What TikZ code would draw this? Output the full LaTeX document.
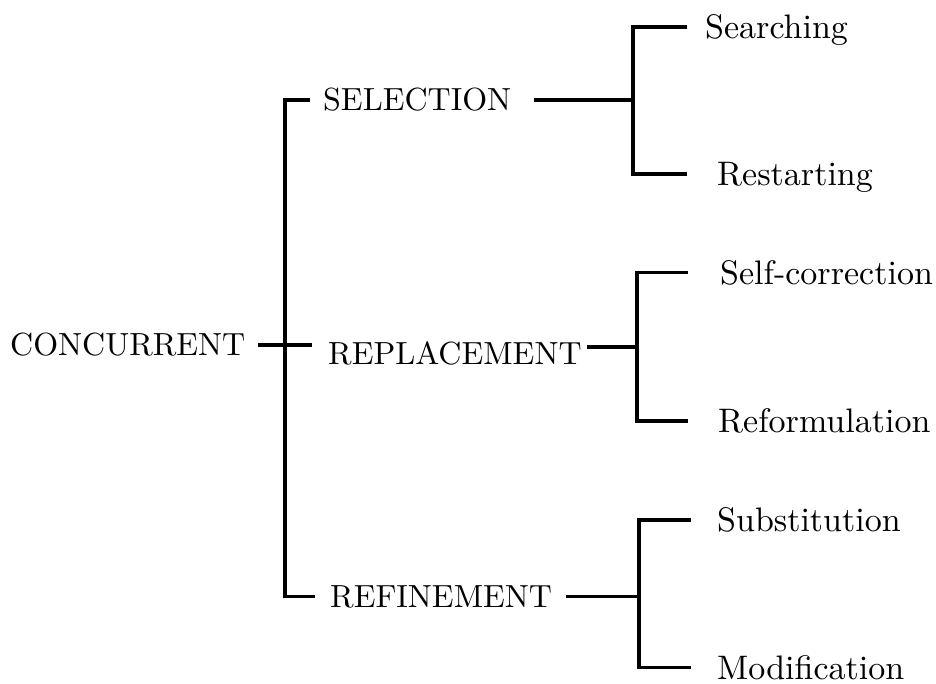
\documentclass[tikz,border=0pt]{standalone}
\usepackage{graphicx}
% labels are set at the 10pt design size and enlarged, which keeps the
% wide, sturdy letterforms of the small optical size
\newcommand\capslabel[1]{\scalebox{3.2}{#1}}
\newcommand\leaflabel[1]{\scalebox{3.4}{#1}}
\begin{document}
\begin{tikzpicture}[x=1pt,y=-1pt,
  lbl/.style={anchor=west, inner sep=0pt, text depth=0pt},
  branch/.style={lbl, text height=21.9pt},
  leaf/.style={lbl, text height=23.2pt},
  wire/.style={line width=3.2pt, line join=miter, line cap=butt}]
\useasboundingbox (0,0) rectangle (936,684);
\fill[white] (0,0) rectangle (936,684);

% root and the three branches
\node[branch] (conc) at (10,345)    {\capslabel{CONCURRENT}};
\node[branch] (sel)  at (323,100)   {\capslabel{SELECTION}};
\node[branch] (rep)  at (328,353.5) {\capslabel{REPLACEMENT}};
\node[branch] (ref)  at (330,596.5) {\capslabel{REFINEMENT}};

% leaves
\node[leaf] (sea)   at (705,27)    {\leaflabel{Searching}};
\node[leaf] (res)   at (717,174)   {\leaflabel{Restarting}};
\node[leaf] (selfc) at (720,272.5) {\leaflabel{Self-correction}};
\node[leaf] (refo)  at (718,421)   {\leaflabel{Reformulation}};
\node[leaf] (sub)   at (717,520)   {\leaflabel{Substitution}};
\node[leaf] (mod)   at (717,667.5) {\leaflabel{Modification}};

% spines of the brackets
\coordinate (trunk) at (285,0);
\coordinate (s1) at (633,0); \coordinate (e1) at (687,0);
\coordinate (s2) at (637,0); \coordinate (e2) at (688,0);
\coordinate (s3) at (639,0); \coordinate (e3) at (691,0);

% first level
\draw[wire] ([xshift=-13pt]sel.west) -- (trunk |- sel.west)
  -- (trunk |- ref.west) -- ([xshift=-15pt]ref.west);
\draw[wire] ([xshift=12pt]conc.east) -- ([xshift=-16pt]rep.west |- conc.east);

% SELECTION
\draw[wire] ([xshift=23pt]sel.east) -- (s1 |- sel.east);
\draw[wire] (e1 |- sea.west) -- (s1 |- sea.west) -- (s1 |- res.west) -- (e1 |- res.west);

% REPLACEMENT
\draw[wire] ([xshift=5pt,yshift=6.5pt]rep.east) -- ([yshift=6.5pt]s2 |- rep.east);
\draw[wire] (e2 |- selfc.west) -- (s2 |- selfc.west) -- (s2 |- refo.west) -- (e2 |- refo.west);

% REFINEMENT
\draw[wire] ([xshift=14pt]ref.east) -- (s3 |- ref.east);
\draw[wire] (e3 |- sub.west) -- (s3 |- sub.west) -- (s3 |- mod.west) -- (e3 |- mod.west);
\end{tikzpicture}
\end{document}
